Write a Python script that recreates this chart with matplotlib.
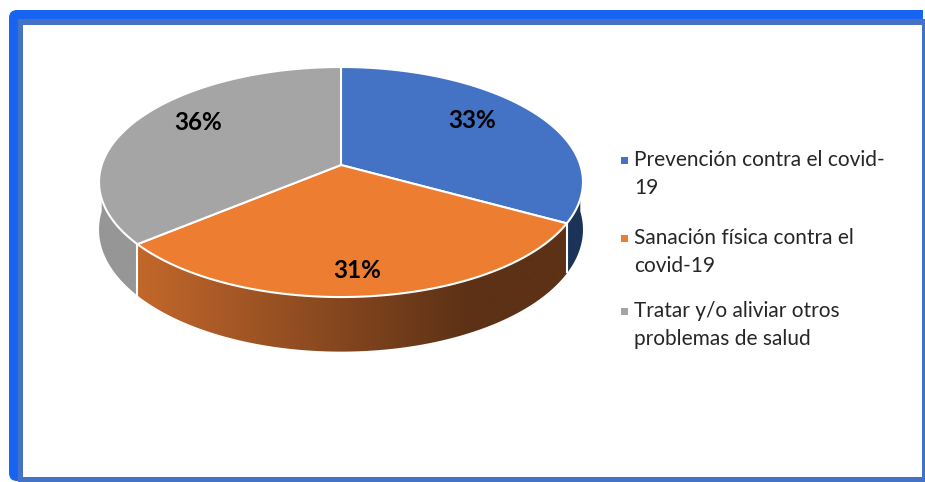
import numpy as np
import matplotlib
matplotlib.use("Agg")
import matplotlib.pyplot as plt
from matplotlib.patches import Polygon, Rectangle, FancyBboxPatch
from matplotlib.colors import to_rgb

# ---- data ----
legend_labels = [
    "Prevención contra el covid-\n19",
    "Sanación física contra el\ncovid-19",
    "Tratar y/o aliviar otros\nproblemas de salud",
]
values = [33, 31, 36]

# ---- style ----
top_colors = ["#4472C4", "#ED7D31", "#A5A5A5"]
side_light = ["#223E6E", "#C2672B", "#969696"]
side_dark = ["#1C3358", "#5C3116", "#878787"]
label_pos = [(472, 121), (357, 270), (198, 123)]
FONT = ["Lato", "DejaVu Sans"]

W, H = 925, 482
fig = plt.figure(figsize=(W / 100, H / 100), dpi=100)
ax = fig.add_axes([0, 0, 1, 1])
ax.set_xlim(0, W)
ax.set_ylim(H, 0)
ax.axis("off")

# ---- frame ----
ax.add_patch(FancyBboxPatch((9, 10), 600, 471, boxstyle="round,pad=0,rounding_size=8",
                            fc="#1763F2", ec="none", zorder=0))
ax.add_patch(Rectangle((300, 10), 623, 10, fc="#1763F2", ec="none", zorder=0))
ax.add_patch(Rectangle((18, 19), 907, 463, fc="#4472C4", ec="none", zorder=0.1))
ax.add_patch(Rectangle((23, 25), 899, 452, fc="white", ec="none", zorder=0.2))

# ---- perspective disc ----
cx, cy = 341.0, 165.0
a, b, k = 239.3, 112.5, 0.148
depth = 46.5


def proj(t, r=1.0):
    d = 1 + k * r * np.sin(t)
    return cx + a * r * np.cos(t) / d, cy - b * r * np.sin(t) / d


def drop(t):
    return depth / (1 + k * np.sin(t))


total = float(sum(values))
bounds = 90 - np.concatenate([[0], np.cumsum(values)]) / total * 360.0  # degrees, clockwise

x_lo, x_hi = 140.0, 470.0
grad_x = np.linspace(0, W, 926)
f = np.clip((grad_x - x_lo) / (x_hi - x_lo), 0, 1)

# side walls (front half only: -180..0 deg), shaded left to right
for i in range(len(values)):
    s, e = bounds[i], bounds[i + 1]
    lo, hi = max(e, -180.0), min(s, 0.0)
    if hi <= lo:
        continue
    ts = np.radians(np.linspace(hi, lo, 200))
    xs, ys = proj(ts)
    ds = drop(ts)
    pts = list(zip(xs, ys)) + list(zip(xs[::-1], (ys + ds)[::-1]))
    wall = Polygon(pts, closed=True, fc="none", ec="none", zorder=1)
    ax.add_patch(wall)
    c1, c2 = np.array(to_rgb(side_light[i])), np.array(to_rgb(side_dark[i]))
    img = (c1[None, :] * (1 - f[:, None]) + c2[None, :] * f[:, None])[None, :, :]
    im = ax.imshow(img, extent=(0, W, H, 0), aspect="auto", interpolation="bilinear",
                   zorder=1)
    im.set_clip_path(wall)
ax.set_xlim(0, W)
ax.set_ylim(H, 0)

# white seams on the side wall at slice boundaries
for bd in bounds[1:-1]:
    t = np.radians(bd)
    if np.sin(t) < 0:
        x, y = proj(t)
        ax.plot([x, x], [y, y + drop(t)], color="white", lw=1.5, zorder=2,
                solid_capstyle="butt")

# top faces
for i in range(len(values)):
    s, e = bounds[i], bounds[i + 1]
    ts = np.radians(np.linspace(s, e, 200))
    xs, ys = proj(ts)
    pts = [(cx, cy)] + list(zip(xs, ys))
    ax.add_patch(Polygon(pts, closed=True, fc=top_colors[i], ec="white", lw=1.5,
                         joinstyle="round", zorder=3))

# percentage labels
for v, (lx, ly) in zip(values, label_pos):
    ax.text(lx, ly, f"{v}%", ha="center", va="center", fontsize=17.5, fontweight="bold",
            color="black", family=FONT, zorder=5)

# ---- legend ----
leg_y = [160, 238, 311]
line_h = 28
for lab, col, y in zip(legend_labels, top_colors, leg_y):
    ax.add_patch(Rectangle((620.5, y - 3.5), 7, 7, fc=col, ec="none", zorder=5))
    for n, line in enumerate(lab.split("\n")):
        ax.text(634, y + n * line_h, line, ha="left", va="center", fontsize=15,
                color="#262626", family=FONT, zorder=5)

fig.savefig("out.png", dpi=100)
